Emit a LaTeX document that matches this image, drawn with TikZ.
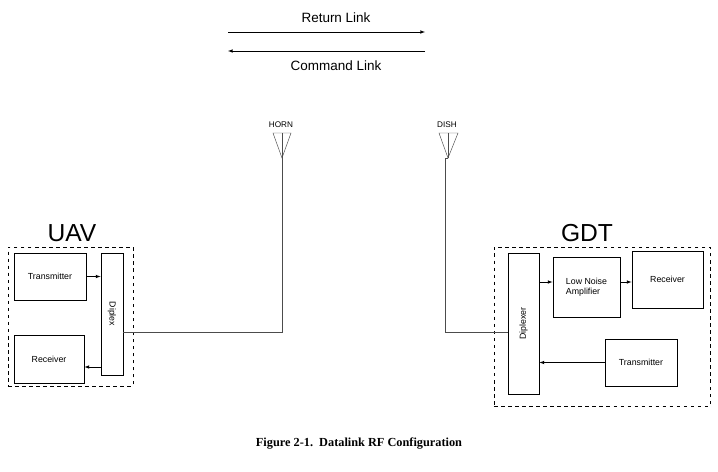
\documentclass[tikz,border=0pt]{standalone}
\usepackage{fontspec}
\setmainfont{Liberation Serif}
\setsansfont{Liberation Sans}
\begin{document}
\begin{tikzpicture}[x=0.03cm, y=-0.03cm]
		\tikzstyle {box} = [draw, thick, inner sep=1pt, font=\sffamily\fontsize{7.5}{8.5}\selectfont, align=left]
		\tikzstyle {group} = [draw, thick, dashed]
		\tikzstyle {feed} = [thin, draw=black!70]
		\tikzstyle {antenna} = [thin, draw=black!70]

		\useasboundingbox (0,0) rectangle (718,472);

		% link direction arrows
		\node[font=\sffamily\fontsize{11.5}{13}\selectfont] (ret) at (336,18) {Return Link};
		\node[font=\sffamily\fontsize{11.5}{13}\selectfont] (cmd) at (336,66) {Command Link};
		\draw[-latex] (228,32) -- (425,32);
		\draw[-latex] (425,51) -- (228,51);

		% antennas
		\node[font=\sffamily\fontsize{7}{8}\selectfont] (hornlbl) at (281,125) {HORN};
		\node[font=\sffamily\fontsize{7}{8}\selectfont] (dishlbl) at (447,125) {DISH};
		\coordinate (horn) at (282,158);
		\coordinate (dish) at (448,158);
		\draw[antenna] (273,133) -- (291,133) -- (horn) -- cycle;
		\draw[antenna] (282,133) -- (horn);
		\draw[antenna] (439,133) -- (458,133) -- (dish) -- cycle;
		\draw[antenna] (448,133) -- (dish);

		% UAV
		\node[font=\sffamily\fontsize{21}{23}\selectfont] (uavlbl) at (72,233) {UAV};
		\node[group, minimum width=3.75cm, minimum height=4.17cm] (uav) at (70.5,316.5) {};
		\node[box, minimum width=2.16cm, minimum height=1.41cm] (utx) at (50,276.5) {Transmitter};
		\node[box, minimum width=2.1cm, minimum height=1.44cm] (urx) at (49,359) {Receiver};
		\node[box, minimum width=0.66cm, minimum height=3.66cm] (udip) at (112,314) {};
		\node[font=\sffamily\fontsize{7.5}{8.5}\selectfont, rotate=-90] at (udip.center) {Diplex};
		\draw[-latex] (utx.east) -- (udip.west |- utx.east);
		\draw[-latex] (udip.west |- 0,367) -- (urx.east |- 0,367);

		% GDT
		\node[font=\sffamily\fontsize{21}{23}\selectfont] (gdtlbl) at (587,233) {GDT};
		\node[group, minimum width=6.48cm, minimum height=4.77cm] (gdt) at (602,326.5) {};
		\node[box, minimum width=0.93cm, minimum height=4.23cm] (gdip) at (523.5,323.5) {};
		\node[font=\sffamily\fontsize{7.5}{8.5}\selectfont, rotate=90] at (gdip.center) {Diplexer};
		\node[box, minimum width=2.01cm, minimum height=1.8cm] (lna) at (586.5,287) {Low Noise\\Amplifier};
		\node[box, minimum width=2.13cm, minimum height=1.71cm] (grx) at (667.5,279.5) {Receiver};
		\node[box, minimum width=2.16cm, minimum height=1.41cm] (gtx) at (641,362.5) {Transmitter};
		\draw[-latex] (gdip.east |- 0,282) -- (lna.west |- 0,282);
		\draw[-latex] (lna.east |- 0,282) -- (grx.west |- 0,282);
		\draw[-latex] (gtx.west) -- (gdip.east |- gtx.west);

		% feed lines
		\coordinate (hornfeed) at (282,332);
		\coordinate (dishfeed) at (445,332);
		\draw[feed] (udip.east |- hornfeed) -- (hornfeed) -- (horn);
		\draw[feed] (gdip.west |- dishfeed) -- (dishfeed) -- (445,158) -- (dish);

		\node[font=\bfseries\fontsize{10.5}{12}\selectfont] (caption) at (359,444) {Figure 2-1.\ \ Datalink RF Configuration};
\end{tikzpicture}
\end{document}
